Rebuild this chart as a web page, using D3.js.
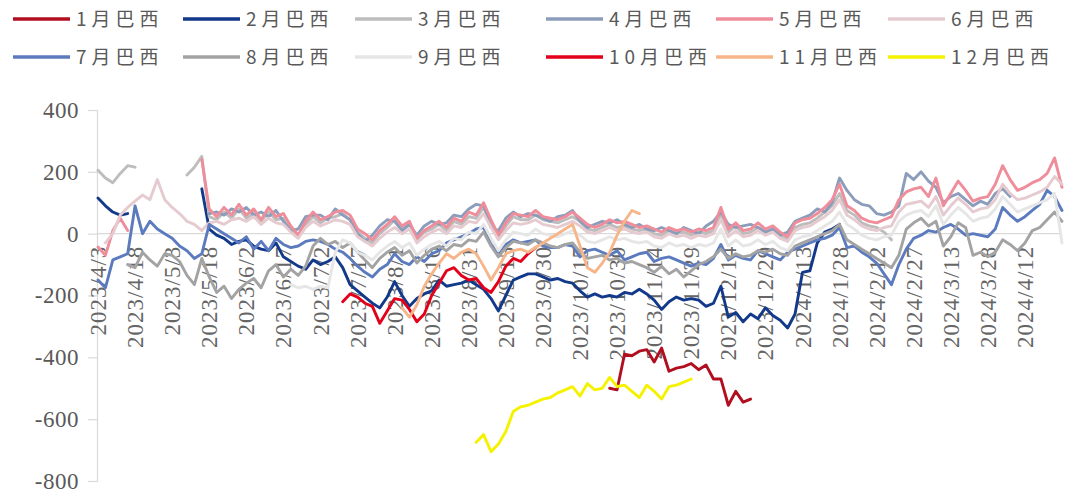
<!DOCTYPE html>
<html>
<head>
<meta charset="utf-8">
<script src="https://cdn.jsdelivr.net/npm/d3@7"></script>
<style>
  body { margin: 0; background: #fff; }
  svg { display: block; }
  .serif-label { font-family: "Liberation Serif", "Times New Roman", Tinos, serif; }
</style>
</head>
<body>
<svg id="chart" width="1086" height="495"></svg>
<script>
// Series names and colours, in legend order
const seriesNames = ["1月巴西", "2月巴西", "3月巴西", "4月巴西", "5月巴西", "6月巴西",
                     "7月巴西", "8月巴西", "9月巴西", "10月巴西", "11月巴西", "12月巴西"];
const seriesColors = ["#B10F1F", "#12398A", "#BDBDBD", "#8B9DBA", "#F08D9B", "#E5CBD0",
                      "#5B7BBE", "#A3A3A3", "#E6E6E6", "#E3001B", "#F7B58A", "#F5F200"];

// First date of each series; values follow every 3 calendar days (null = no quote)
const seriesStarts = ["2023-10-27", "2023-04-03", "2023-04-03", "2023-05-18", "2023-04-03", "2023-04-06",
                      "2023-04-03", "2023-04-15", "2023-06-20", "2023-07-11", "2023-08-04", "2023-09-03"];
const stepDays = 3;

const jan = [-500, -505, -390, -395, -380, -375, -415, -370, -445, -435, -430, -420, -440, -425,
             -470, -470, -555, -510, -545, -535];

const feb = [115, 90, 70, 60, 65, null, null, null, null, null, null, null, null, null,
             145, 15, -5, -15, -35, -25, -20, -40, -50, -55, -30, -75, -90, -105, -115, -85,
             -100, -90, -75, -110, -165, -185, -205, -225, -240, -205, -155, -200, -235, -210,
             -195, -185, -150, -170, -165, -160, -150, -165, -180, -210, -250, -200, -150, -140,
             -130, -130, -140, -150, -145, -155, -160, -185, -205, -195, -205, -200, -205, -190,
             -195, -180, -195, -215, -245, -220, -205, -215, -210, -215, -235, -225, -170, -270,
             -255, -285, -260, -275, -240, -265, -280, -305, -260, -125, -120, -30, 5, 15, 30];

const mar = [205, 180, 165, 195, 220, 215, null, null, null, null, null, null,
             190, 215, 250,
             55, 45, 70, 50, 80, 50, 65, 40, 70, 45,
             50, 15, -10, 30, 55, 35, 50, 55, 65, 45,
             5, -15, -30, 0, 20, 45, 15, 30, -20, 5,
             15, 30, 10, 40, 30, 55, 50, 85, 35, -15,
             25, 55, 45, 45, 60, 45, 40, 35, 45, 55,
             40, 15, 10, 20, 30, 20, 25, 15, 10, 15,
             0, -5, 10, 0, 5, -5, 5, 0, 10, 65,
             5, 25, 0, 5, 20, 5, 15, -5, -20, 20,
             30, 35, 50, 70, 90, 130, 75, 60, 35, 25,
             20, 5, -20];

const apr = [65, 70, 60, 80, 70, 85, 60, 70, 55, 75,
             40, 10, 15, 55, 60, 60, 45, 80, 60, 45,
             0, -25, -5, 25, 45, 40, 10, 30, -5, 25,
             40, 30, 35, 60, 55, 80, 95, 90, 20, 10,
             50, 70, 55, 65, 60, 50, 40, 55, 60, 75,
             40, 20, 30, 40, 35, 45, 30, 20, 30, 15,
             10, 20, 10, 0, 20, 10, 0, 25, 40, 70,
             30, 20, 25, 30, 20, 5, 15, -5, 5, 40,
             50, 60, 80, 70, 100, 180, 140, 110, 95, 90,
             65, 60, 70, 90, 195, 175, 200, 170, 150, 100,
             120, 130, 110, 90, 105, 95, 130, 145, 120];

const may = [-43, -70, 10, 50, 10, null, null, null, null, null, null, null, null, null,
             240,
             80, 55, 85, 60, 95, 60, 80, 45, 85, 55,
             65, 25, -5, 40, 70, 45, 55, 70, 75, 60,
             15, 0, -20, 10, 30, 55, 25, 40, -15, 10,
             25, 40, 20, 50, 40, 70, 60, 100, 45, -5,
             35, 65, 60, 55, 75, 55, 50, 45, 55, 70,
             50, 30, 20, 30, 45, 35, 40, 30, 20, 25,
             15, 5, 20, 10, 15, 5, 15, 10, 20, 85,
             15, 35, 10, 15, 35, 15, 25, 5, -10, 35,
             45, 50, 65, 85, 110, 160, 90, 75, 50, 40,
             35, 45, 55, 110, 135, 145, 150, 120, 180, 90,
             130, 170, 140, 105, 115, 120, 160, 220, 175, 140,
             150, 165, 175, 195, 245, 150];

const jun = [-30, 0, 60, 85, 105, 125, 110, 175, 110, 85,
             65, 40, 30, 10, 35, 40, 30, 45, 50, 40,
             55, 30, 50, 35, 30, 5, -15, 20, 40, 25,
             35, 45, 40, 30, -10, -25, -40, -15, 5, 20,
             0, 15, -30, -10, 5, 15, 0, 25, 20, 40,
             35, 65, 20, -20, 10, 35, 30, 35, 45, 30,
             25, 20, 30, 40, 25, 5, 0, 10, 20, 10,
             15, 5, 0, 5, -10, -15, 0, -10, -5, -15,
             -5, -10, 0, 45, -10, 10, -10, -5, 10, -5,
             5, -15, -25, 10, 20, 25, 40, 55, 75, 110,
             60, 45, 25, 15, 10, 20, 25, 70, 95, 100,
             105, 85, 120, 60, 90, 115, 95, 70, 80, 85,
             110, 160, 130, 110, 115, 125, 135, 150, 185, 160];

const jul = [-150, -175, -85, -75, -65, 90, 0, 40, 15, 0,
             -15, -40, -55, -80, -65, 30, 15, 0, -15, -30,
             -10, -50, -25, -55, -15, -35, -45, -40, -25, -20,
             -25, -35, -50, -60, -80, -105, -125, -140, -115, -100,
             -65, -90, -100, -75, -90, -65, -55, -30, -20, -10,
             0, 15, 20, -35, -60, -35, -20, -30, -25, -20,
             -40, -45, -45, -35, -40, -75, -55, -50, -60, -70,
             -55, -85, -75, -65, -60, -90, -80, -75, -85, -95,
             -105, -95, -100, -80, -35, -85, -70, -80, -85, -55,
             -65, -75, -85, -60, -50, -40, -30, -20, -15, -5,
             20, -45, -40, -60, -75, -95, -130, -165, -100, -50,
             -15, -5, 10, 5, 20, 30, 15, -5, 0, -5,
             -10, 15, 85, 60, 40, 55, 75, 95, 140, 120,
             75];

const aug = [-100, -110, -60, -85, -105, -65, -70, -90, -135, -165,
             -80, -140, -190, -170, -210, -180, -160, -145, -175, -120,
             -100, -140, -115, -135, -105, -40, -15, -35, -25, -45,
             -30, -60, -85, -110, -80, -60, -45, -70, -55, -95,
             -70, -50, -40, -55, -35, -40, -20, -25, 5, -40,
             -75, -45, -25, -30, -35, -20, -30, -40, -45, -35,
             -30, -60, -80, -75, -70, -85, -80, -95, -90, -100,
             -110, -125, -105, -130, -115, -140, -120, -100, -90, -75,
             -50, -80, -65, -75, -70, -55, -60, -50, -65, -70,
             -40, -30, -20, -10, 0, 10, 30, -20, -35, -50,
             -65, -80, -95, -110, -70, 15, 35, 50, 25, 40,
             -40, -10, 35, 20, -70, -60, -75, -60, -20, -35,
             -55, -30, 10, 20, 45, 70, 40];

const sep = [-165, -175, -170, -180, -170, -175, -60, -20, -30, -60,
             -70, -85, -60, -40, -25, -45, -30, -70, -50, -35,
             -25, -40, -15, -20, 5, 0, 30, -15, -55, -20,
             5, 0, -5, 15, 0, -5, -10, 0, 10, -5,
             -25, -30, -20, -10, -20, -15, -25, -30, -25, -40,
             -45, -30, -40, -35, -45, -35, -40, -30, 15, -40,
             -20, -40, -35, -20, -35, -25, -45, -55, -20, -10,
             -5, 10, 25, 40, 70, 30, 15, -5, -15, -20,
             -10, -5, 40, 60, 70, 75, 55, 90, 30, 60,
             85, 65, 40, 50, 55, 80, 120, 95, 70, 80,
             90, 100, 110, 130, -30];

const oct = [-220, -195, -205, -225, -235, -290, -250, -210, -215, -245,
             -285, -260, -200, -160, -120, -110, -135, -150, -145, -175,
             -190, -155, -105, -80, -90, -65, -45];

const nov = [-240, -270, -230, -170, -130, -95, -65, -80, -60, -50,
             -65, -105, -150, -110, -65, -55, -50, -60, -45, -30,
             -15, 0, 15, 30, -40, -110, -125, -95, -60, -5,
             40, 75, 65];

const dec = [-675, -650, -705, -680, -640, -575, -560, -555, -545, -535,
             -530, -515, -505, -495, -525, -485, -505, -500, -465, -495,
             -490, -510, -530, -490, -510, -535, -495, -490, -480, -470];

const seriesValues = [jan, feb, mar, apr, may, jun, jul, aug, sep, oct, nov, dec];

// Axis ticks
const yTicks = [400, 200, 0, -200, -400, -600, -800];
const xTickLabels = ["2023/4/3", "2023/4/18", "2023/5/3", "2023/5/18", "2023/6/2", "2023/6/17",
                     "2023/7/2", "2023/7/17", "2023/8/1", "2023/8/16", "2023/8/31", "2023/9/15",
                     "2023/9/30", "2023/10/15", "2023/10/30", "2023/11/14", "2023/11/29", "2023/12/14",
                     "2023/12/29", "2024/1/13", "2024/1/28", "2024/2/12", "2024/2/27", "2024/3/13",
                     "2024/3/28", "2024/4/12"];

const parseISO = d3.timeParse("%Y-%m-%d");
const parseLabel = d3.timeParse("%Y/%m/%d");

const svg = d3.select("#chart");

const x = d3.scaleTime()
  .domain([parseISO("2023-04-03"), parseISO("2024-04-27")])
  .range([98, 1062]);
const y = d3.scaleLinear().domain([-800, 400]).range([481, 110]);

const axisColor = "#D9D9D9";
const labelColor = "#595959";

// Y axis
const yAxis = svg.append("g")
  .attr("transform", "translate(97,0)")
  .call(d3.axisLeft(y).tickValues(yTicks).tickSize(9).tickPadding(9).tickFormat(d => String(d)));
yAxis.attr("font-family", null).attr("font-size", null);
yAxis.select(".domain").attr("stroke", axisColor).attr("stroke-width", 1.2);
yAxis.selectAll(".tick line").attr("stroke", axisColor).attr("stroke-width", 1.2);
yAxis.selectAll(".tick text")
  .attr("class", "serif-label")
  .attr("fill", labelColor)
  .attr("font-size", 23)
  .attr("letter-spacing", 0.5);

// Zero line (category axis)
svg.append("line")
  .attr("x1", 97).attr("x2", x.range()[1])
  .attr("y1", y(0)).attr("y2", y(0))
  .attr("stroke", axisColor).attr("stroke-width", 1.2);

// Rotated date labels hanging below the zero line
svg.append("g").selectAll("text")
  .data(xTickLabels)
  .join("text")
  .attr("class", "serif-label")
  .attr("transform", d => `translate(${x(parseLabel(d))},${y(0) + 12}) rotate(-90)`)
  .attr("text-anchor", "end")
  .attr("dy", "0.35em")
  .attr("fill", "#666666")
  .attr("font-size", 23)
  .attr("letter-spacing", 1)
  .text(d => d);

// Lines
const line = d3.line()
  .defined(d => d.v !== null)
  .x(d => x(d.date))
  .y(d => y(d.v));

seriesValues.forEach((vals, k) => {
  const start = parseISO(seriesStarts[k]);
  const pts = vals.map((v, i) => ({ date: d3.timeDay.offset(start, i * stepDays), v }));
  svg.append("path")
    .datum(pts)
    .attr("d", line)
    .attr("fill", "none")
    .attr("stroke", seriesColors[k])
    .attr("stroke-width", 2.9)
    .attr("stroke-linejoin", "round")
    .attr("stroke-linecap", "round");
});

// Legend: two rows of six
const legendX = [13, 183, 355, 546, 716, 888];
const legendY = [19, 57];
const legend = svg.append("g").selectAll("g")
  .data(seriesNames)
  .join("g")
  .attr("transform", (d, i) => `translate(${legendX[i % 6]},${legendY[Math.floor(i / 6)]})`);
legend.append("line")
  .attr("x1", 0).attr("x2", 57).attr("y1", 0).attr("y2", 0)
  .attr("stroke", (d, i) => seriesColors[i])
  .attr("stroke-width", 3.5);
legend.append("text")
  .attr("x", 63).attr("y", 0).attr("dy", "0.35em")
  .attr("fill", labelColor)
  .attr("font-family", "'Noto Sans CJK SC', sans-serif")
  .attr("font-size", 19)
  .attr("letter-spacing", 5)
  .text(d => d);
</script>
</body>
</html>
